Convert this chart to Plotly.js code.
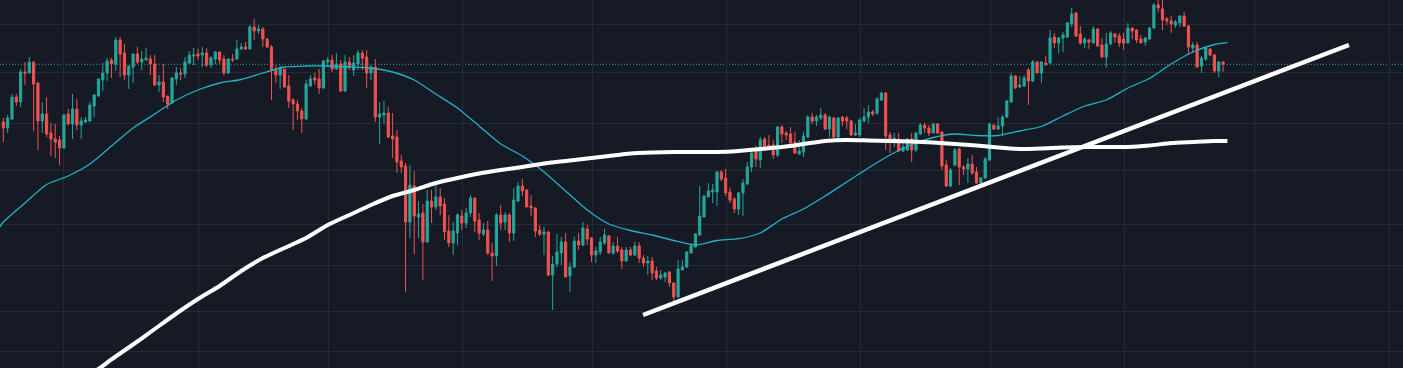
<!DOCTYPE html>
<html>
<head>
<meta charset="utf-8">
<script src="https://cdn.plot.ly/plotly-3.0.1.min.js"></script>
<style>
html,body{margin:0;padding:0;background:#161a25;overflow:hidden;}
#chart{width:1403px;height:368px;}
</style>
</head>
<body>
<div id="chart"></div>
<script>
// ---- candle data (bar index -> OHLC) ----
var opens = [278,272,281,303,298,328,327,338,317,279,286,267,261,260,252,286,276,291,275,278,
279,294,304,320,327,340,336,360,347,325,333,346,338,340,341,336,315,318,304,297,
321,327,326,337,344,346,345,347,335,341,348,341,327,341,341,351,353,351,373,369,
371,361,353,330,325,331,314,300,296,289,281,314,322,321,312,338,340,331,336,309,
338,330,336,347,343,327,333,283,285,287,264,263,239,234,178,214,183,187,158,199,
193,203,196,169,157,167,184,177,187,202,180,166,170,147,144,185,178,185,167,199,
214,210,194,192,170,166,168,125,136,147,158,124,133,159,155,171,162,145,148,157,
164,147,154,150,139,150,145,154,142,137,139,129,122,123,128,117,103,130,133,147,
153,165,183,203,208,208,228,222,208,201,191,207,216,233,249,240,261,255,255,245,
273,267,266,258,246,248,263,283,279,282,285,271,282,263,283,282,279,265,265,279,
283,288,287,300,307,265,258,261,249,250,261,250,266,275,272,267,276,268,235,214,
235,251,233,231,236,228,217,222,240,275,271,274,283,298,324,313,314,330,319,338,
327,337,337,363,357,362,363,376,387,366,357,360,357,371,355,343,356,366,364,361,
357,372,370,361,358,361,372,395,391,381,379,375,377,384,374,352,355,334,341,351,
345,329,338];
var highs = [282,285,306,306,331,338,343,338,317,298,303,277,276,264,286,291,306,301,283,283,
298,306,321,337,342,342,363,363,356,334,347,353,349,352,345,345,325,336,304,323,
333,332,343,349,352,351,353,352,344,349,349,345,342,346,360,357,358,375,381,375,
373,362,355,335,335,331,325,302,300,292,320,325,327,331,340,343,345,347,340,345,
343,345,350,350,350,335,341,298,299,293,287,270,245,237,235,229,199,196,210,210,
217,212,202,185,178,187,190,192,205,202,187,177,179,157,187,195,188,187,212,218,
221,211,205,193,175,173,169,144,166,163,167,138,163,167,178,175,163,153,163,171,
165,158,163,153,153,153,158,158,145,144,143,133,130,128,129,118,140,140,149,157,
167,214,205,217,216,229,230,231,212,203,208,221,238,250,254,263,263,265,260,274,
275,269,273,268,260,268,285,287,285,292,287,284,283,283,284,284,280,276,282,292,
295,290,303,308,308,268,267,267,258,262,267,268,277,277,275,277,277,269,240,232,
252,252,235,242,245,233,223,243,277,276,283,285,300,327,325,324,325,332,340,339,
339,344,370,367,363,368,378,392,388,374,363,361,374,372,362,367,369,367,367,367,
377,372,371,365,363,373,397,400,400,383,384,380,385,388,375,358,358,344,352,352,
346,339,339];
var lows = [258,267,280,294,293,315,327,269,250,267,263,244,242,235,251,275,261,270,261,277,
278,283,303,309,319,322,329,323,320,311,317,336,330,340,325,314,308,298,291,296,
315,320,322,336,335,340,333,333,332,336,336,325,326,338,340,350,350,351,360,366,
353,352,300,317,311,312,292,270,280,267,280,313,315,306,311,333,328,330,308,308,
330,324,330,330,312,320,278,256,276,262,242,227,227,108,162,146,162,120,157,177,
190,185,160,153,145,155,170,172,183,168,160,164,145,119,134,170,170,158,159,198,
204,193,184,163,164,145,124,90,133,135,123,108,132,150,154,155,138,137,145,155,
147,145,147,131,138,144,144,137,133,125,120,120,120,118,113,98,102,130,132,147,
153,164,183,203,197,194,219,204,197,187,185,184,215,228,233,232,252,252,241,243,
257,260,255,246,245,243,262,276,274,280,270,263,262,262,274,271,264,264,263,278,
277,284,285,299,250,247,253,248,248,249,238,248,265,267,264,267,266,230,213,213,
234,215,225,217,225,216,216,221,239,270,270,264,282,297,311,312,313,295,318,327,
317,334,336,352,347,348,362,373,363,355,352,351,357,353,342,332,355,357,353,350,
357,361,357,357,354,360,371,388,370,375,367,372,373,373,345,347,332,327,339,344,
327,323,328];
var closes = [272,282,303,298,328,327,338,316,279,286,266,261,258,252,285,276,291,275,279,280,
295,305,321,327,339,336,360,346,325,334,346,338,341,342,336,315,318,303,296,322,
327,326,338,345,345,344,347,335,342,348,340,327,341,340,351,353,351,373,369,371,
361,353,330,325,332,313,299,296,289,281,316,321,320,312,339,340,331,336,309,338,
333,337,347,342,327,333,283,286,287,263,261,238,233,178,215,184,186,158,199,193,
203,194,168,157,169,185,177,187,202,179,167,170,147,144,185,177,185,167,200,214,
209,193,192,169,166,168,125,136,148,158,123,133,159,155,172,161,145,149,158,165,
147,154,149,139,150,145,154,142,137,139,127,122,125,127,117,103,131,133,148,154,
166,184,204,209,210,228,221,207,200,191,207,217,233,247,241,260,253,254,245,273,
266,265,257,247,249,264,283,279,283,285,271,283,263,282,279,279,265,267,280,283,
288,286,301,307,264,258,262,249,253,261,250,267,275,272,267,276,267,234,214,230,
250,233,231,236,227,217,222,241,276,271,274,283,299,324,312,315,322,319,338,327,
338,336,362,357,362,365,377,386,364,357,361,358,371,354,343,356,367,363,357,357,
372,369,360,357,362,372,395,392,380,379,376,378,384,374,353,355,333,342,352,345,
329,338,336];

var maFastIdx = [-1,0,5,10,15,20,25,30,35,40,45,50,55,60,65,70,75,80,85,90,95,100,105,110,115,120,125,130,135,140,145,150,155,160,165,170,175,180,185,190,195,200,205,210,215,220,225,230,235,240,245,250,255,260,265,270,275,280,283];
var maFast = [172,178,197,215.5,224,236,254,272,286,300,310,317,320.5,327,333,334,334,333,332,328,320,306,292,274,256,244,228,209,190,176,169.5,165,159.5,155,159.5,161.3,167,181,191,204,218,232,245,255.5,262.5,266,264.5,264.5,269,273.5,284,294,300,312,321.5,336,348,355.5,357.3];

var maSlowIdx = [20,22,25,30,35,40,45,50,55,60,65,70,75,80,85,90,95,100,105,110,115,120,125,130,135,140,145,150,155,160,165,170,175,180,185,190,195,200,205,210,215,220,225,230,235,240,245,250,255,260,265,270,275,280,283];
var maSlow = [26,31,40.6,55.5,71,86.5,101,114,129,142,152,162,175,185,195,204,210,217,222,226.5,230,233,236.5,239,241.5,244,246.5,247.5,248,248,248,249,251,253,256,259,260,259.5,259,258.5,257.5,256,254.5,252.5,251,251.5,252.5,253,253,253,254.5,257,258,259,259];

// ---- drawn trendline and horizontal price line ----
var trendIdx = [147.9, 311.1];
var trendVal = [85, 355];
var priceLine = 335.7;

// ---- background grid positions ----
var gridX = [13.87,45.08,75.14,106.12,136.18,167.16,198.24,228.29,259.17,289.22,320.46];
var gridY = [375.7,328,276.7,230,175.7,134.7,88.7,48.7];

var idx = [];
for (var i = 0; i < closes.length; i++) idx.push(i);

var traces = [
  {
    type: 'candlestick', x: idx, open: opens, high: highs, low: lows, close: closes,
    increasing: {line: {color: '#26a69a', width: 1}, fillcolor: '#26a69a'},
    decreasing: {line: {color: '#ef5350', width: 1}, fillcolor: '#ef5350'},
    whiskerwidth: 0, hoverinfo: 'skip', showlegend: false
  },
  {type: 'scatter', mode: 'lines', x: maFastIdx, y: maFast,
   line: {color: '#22b3c7', width: 1.3, shape: 'spline', smoothing: 0.6}, hoverinfo: 'skip', showlegend: false},
  {type: 'scatter', mode: 'lines', x: maSlowIdx, y: maSlow,
   line: {color: '#ffffff', width: 4, shape: 'spline', smoothing: 0.5}, hoverinfo: 'skip', showlegend: false},
  {type: 'scatter', mode: 'lines', x: trendIdx, y: trendVal,
   line: {color: '#ffffff', width: 4.5}, hoverinfo: 'skip', showlegend: false}
];

var layout = {
  width: 1403, height: 368,
  margin: {l: 0, r: 0, t: 0, b: 0, pad: 0},
  paper_bgcolor: '#161a25', plot_bgcolor: '#161a25',
  showlegend: false,
  hovermode: false,
  boxgap: 0.5, boxgroupgap: 0,
  xaxis: {
    range: [-0.77, 323.6], tickmode: 'array', tickvals: gridX, showticklabels: false,
    showgrid: true, gridcolor: '#262a36', gridwidth: 1, zeroline: false, showline: false,
    ticks: '', rangeslider: {visible: false}, fixedrange: true
  },
  yaxis: {
    range: [32, 400], tickmode: 'array', tickvals: gridY, showticklabels: false,
    showgrid: true, gridcolor: '#262a36', gridwidth: 1, zeroline: false, showline: false,
    ticks: '', fixedrange: true
  },
  shapes: [{
    type: 'line', xref: 'paper', x0: 0, x1: 1, yref: 'y', y0: priceLine, y1: priceLine,
    line: {color: '#22ab9c', width: 1, dash: '1px,2px'}, layer: 'below'
  }]
};

Plotly.newPlot('chart', traces, layout, {staticPlot: true, displayModeBar: false});
</script>
</body>
</html>
